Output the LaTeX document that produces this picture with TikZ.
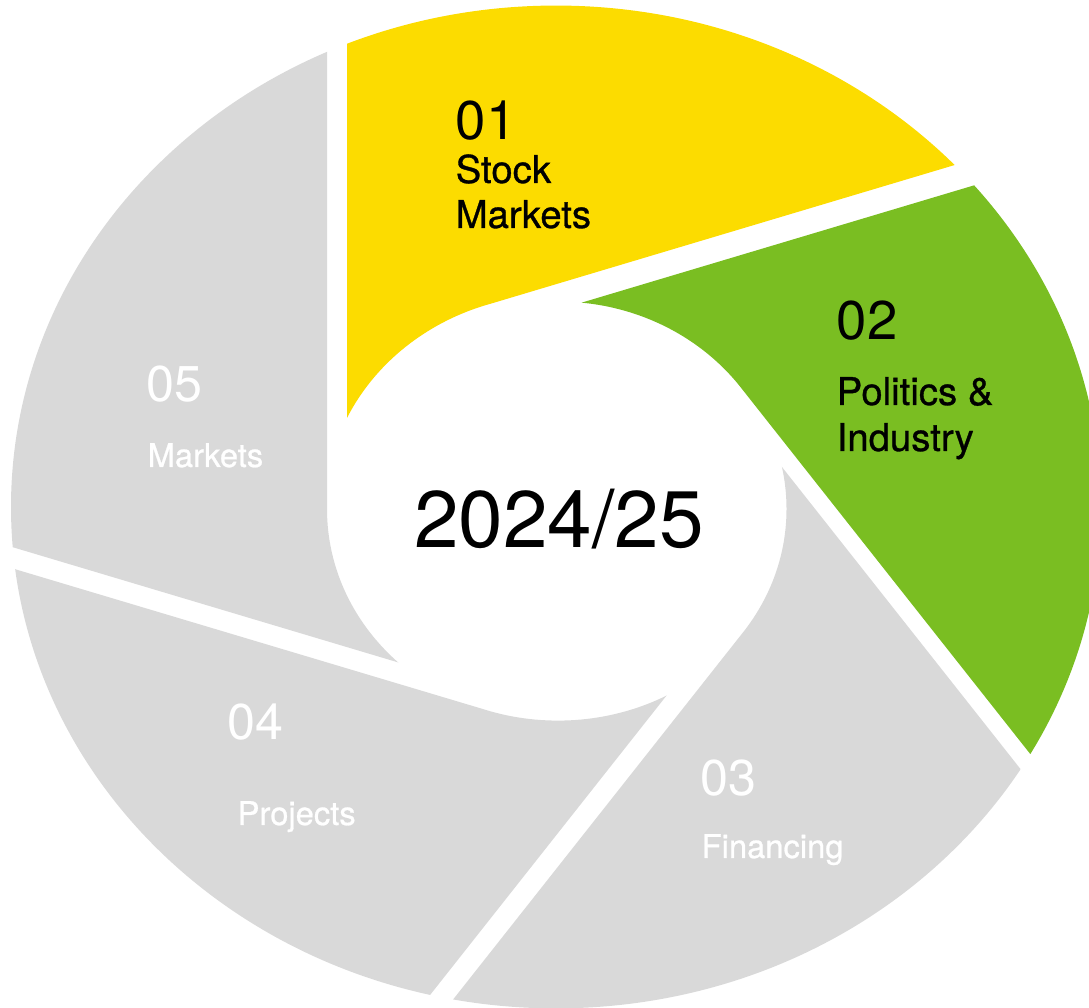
\documentclass[tikz,border=0pt]{standalone}
\usepackage{fontspec}
\setmainfont{TeX Gyre Heros}
\newfontfamily\labelfont{TeX Gyre Heros}[FakeBold=0.8]
\usepackage{tikz}
\usetikzlibrary{positioning}
\definecolor{stockyellow}{RGB}{252,220,0}
\definecolor{politicsgreen}{RGB}{122,190,34}
\definecolor{ringgray}{RGB}{217,217,217}

% one blade of the ring, #1 rotation, #2 colour, #3 inner radius, #4 leading edge
\newcommand{\blade}[4]{%
  \begin{scope}
    \clip[rotate=#1] (0,0) -- (108:#3) -- ++(18:900) -- (-#4,900) -- (-#4,0) -- cycle;
    \fill[#2,even odd rule] (-2,2.2) circle[radius=545] (0,0) circle[radius=#3];
  \end{scope}}

\begin{document}
\begin{tikzpicture}[x=0.01cm,y=0.01cm,
    num/.style={inner sep=0pt,anchor=base west,font=\fontsize{15.5}{18}\selectfont},
    numlight/.style={num,white,font=\fontsize{14.3}{17}\selectfont},
    lbl/.style={inner sep=0pt,anchor=base west,font=\labelfont\fontsize{10.9}{13}\selectfont},
    lbllight/.style={lbl,white,font=\labelfont\fontsize{9.3}{11}\selectfont}]
  \useasboundingbox (0,0) rectangle (1089,1007);

  % ring
  \begin{scope}[shift={(558,498)},yscale=0.92]
    \blade{0}{stockyellow}{233}{211}
    \blade{-72}{politicsgreen}{225.5}{206}
    \blade{-144}{ringgray}{228.5}{208}
    \blade{144}{ringgray}{230}{207}
    \blade{72}{ringgray}{231}{208}
  \end{scope}

  \node[inner sep=0pt,anchor=base,font=\fontsize{22.8}{27}\selectfont] (year) at (559,459) {2024/25};

  % 01
  \node[num] (num01) at (455,867) {01};
  \node[lbl] (stock) at (455,824) {Stock};
  \node[lbl] (markets01) at (455,779) {Markets};

  % 02
  \node[num] (num02) at (836,667) {02};
  \node[lbl] (politics) at (836,602) {Politics \&};
  \node[lbl] (industry) at (836,556) {Industry};

  % 03
  \node[numlight] (num03) at (700,211) {03};
  \node[lbllight] (financing) at (701,149) {Financing};

  % 04
  \node[numlight] (num04) at (227,267) {04};
  \node[lbllight] (projects) at (237,182) {Projects};

  % 05
  \node[numlight] (num05) at (146,605) {05};
  \node[lbllight] (markets05) at (147,540) {Markets};
\end{tikzpicture}
\end{document}
